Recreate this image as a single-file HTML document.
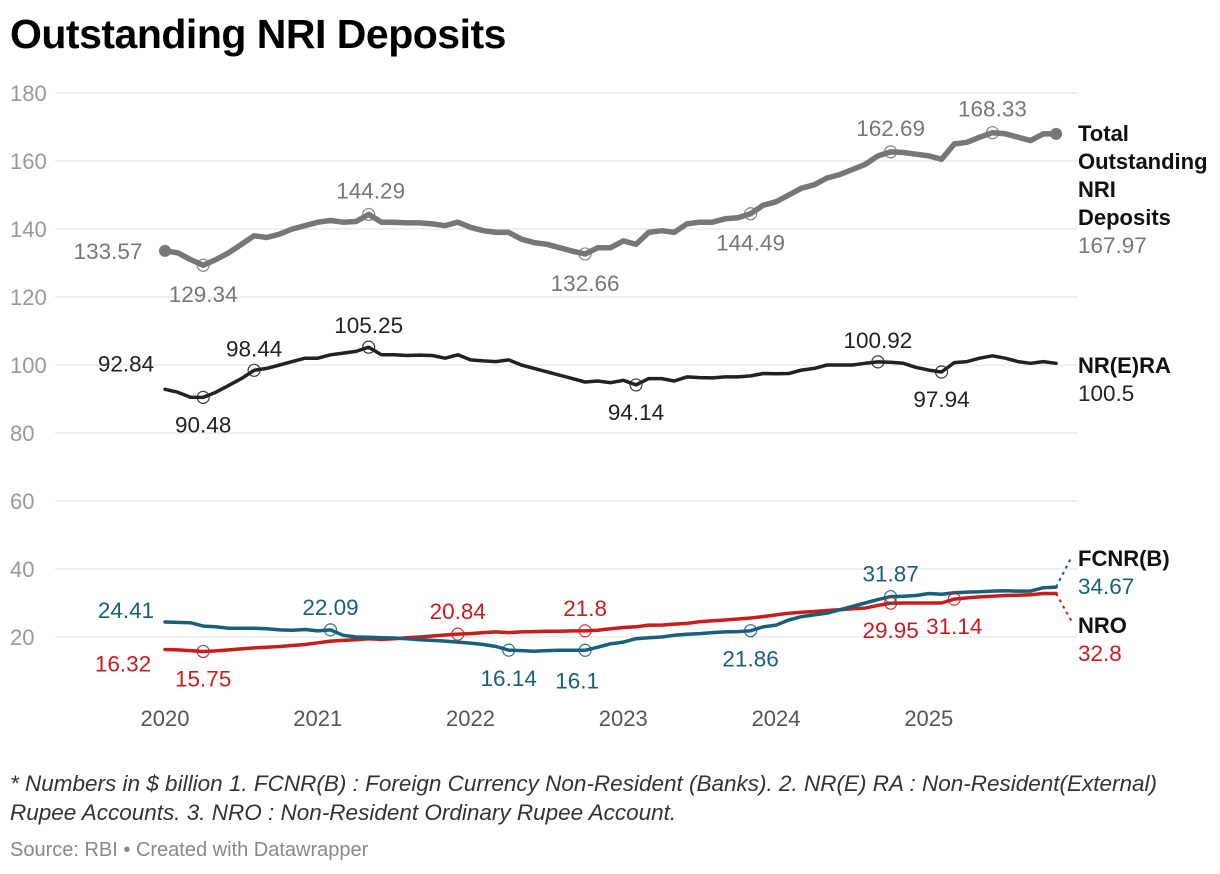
<!DOCTYPE html>
<html><head><meta charset="utf-8">
<style>
body{margin:0;background:#fff;font-family:"Liberation Sans",sans-serif;}
#wrap{position:relative;width:1220px;height:874px;overflow:hidden;}
h1{position:absolute;left:10px;top:11px;margin:0;font-size:41px;font-weight:bold;color:#000;letter-spacing:-0.5px;}
.note{position:absolute;left:10px;top:769px;font-size:22.5px;font-style:italic;color:#333;line-height:29px;width:1190px;}
.src{position:absolute;left:10px;top:839px;font-size:20px;color:#888;}
</style></head>
<body><div id="wrap">
<h1>Outstanding NRI Deposits</h1>
<svg id="chart" width="1220" height="874" style="position:absolute;left:0;top:0"></svg>
<div class="note">* Numbers in $ billion 1. FCNR(B) : Foreign Currency Non-Resident (Banks). 2. NR(E) RA : Non-Resident(External) Rupee Accounts. 3. NRO : Non-Resident Ordinary Rupee Account.</div>
<div class="src">Source: RBI • Created with Datawrapper</div>
</div>
<script>
const yTicks=[20,40,60,80,100,120,140,160,180];
const years=["2020","2021","2022","2023","2024","2025"];
const total=[133.57,133,131,129.34,131,133,135.5,138,137.5,138.5,140,141,142,142.5,142,142.2,144.29,142,142,141.8,141.8,141.5,141,142,140.5,139.5,139,139,137,136,135.5,134.5,133.5,132.66,134.5,134.5,136.5,135.5,139,139.5,139,141.5,142,142,143,143.3,144.49,147,148,150,152,153,155,156,157.5,159,161.5,162.69,162.5,162,161.5,160.5,165,165.5,167,168.33,168,167,166,168,167.97];
const nrera=[92.84,92,90.5,90.48,92,94,96,98.44,99,100,101,102,102,103,103.5,104,105.25,103,103,102.8,102.9,102.8,102,103,101.5,101.2,101,101.5,100,99,98,97,96,95,95.3,94.8,95.5,94.14,96,96,95.3,96.5,96.3,96.2,96.5,96.5,96.8,97.5,97.4,97.5,98.5,99,100,100,100,100.5,100.92,100.8,100.5,99.3,98.5,97.94,100.7,101,102,102.7,102,101,100.5,101,100.5];
const fcnr=[24.41,24.3,24.2,23.2,23,22.6,22.6,22.6,22.4,22.1,22,22.2,21.8,22.09,20.5,20,19.9,19.8,19.7,19.5,19.2,19,18.8,18.5,18.2,17.8,17.2,16.14,16,15.8,16,16.1,16.1,16.1,17,18,18.5,19.5,19.8,20,20.5,20.8,21,21.3,21.5,21.6,21.86,23,23.5,25,26,26.5,27,28,29,30,31,31.87,32,32.2,32.8,32.6,33,33.2,33.3,33.5,33.6,33.5,33.5,34.5,34.67];
const nro=[16.32,16.2,16,15.75,15.9,16.2,16.5,16.8,17,17.2,17.5,17.8,18.3,18.8,19,19.2,19.5,19.3,19.5,19.8,20,20.3,20.6,20.84,21,21.3,21.5,21.3,21.5,21.6,21.7,21.7,21.8,21.8,22,22.4,22.8,23,23.5,23.5,23.8,24,24.5,24.8,25,25.3,25.6,26,26.5,27,27.3,27.5,27.8,28,28.3,28.5,29.3,29.95,30,30,30,30,31.14,31.5,31.8,32,32.2,32.3,32.4,32.8,32.8];
const totalMarks=[3,16,33,46,57,65];
const nreraMarks=[3,7,16,37,56,61];
const fcnrMarks=[13,27,33,46,57];
const nroMarks=[3,23,33,57,62];

const NS="http://www.w3.org/2000/svg";
const svg=document.getElementById('chart');
const X0=55,X1=1078,M0=165,MW=12.73;
const xs=i=>M0+i*MW;
const ys=v=>705-v*3.4;
function el(tag,attrs,parent){const e=document.createElementNS(NS,tag);for(const k in attrs)e.setAttribute(k,attrs[k]);(parent||svg).appendChild(e);return e;}

yTicks.forEach(t=>{
  const l=el('line',{x1:X0,x2:X1,y1:ys(t),y2:ys(t),stroke:'#e2e2e2','stroke-width':1});
  
  
  const tx=el('text',{x:10,y:ys(t)+8,'font-size':22,fill:'#999'});
  tx.textContent=t;
  
  
});
years.forEach((y,k)=>{
  const tx=el('text',{x:xs(k*12),y:726,'font-size':22,fill:'#555','text-anchor':'middle'});
  tx.textContent=y;
  
  
});

function series(data,color,w,name){
  const d=data.map((v,i)=>(i?'L':'M')+xs(i).toFixed(1)+','+ys(v).toFixed(1)).join('');
  const p=el('path',{d:d,fill:'none',stroke:color,'stroke-width':w,'stroke-linejoin':'round','stroke-linecap':'round'});
  
  
}
function marks(data,idx,color,name,offs){
  idx.forEach((i,k)=>{
    const c=el('circle',{cx:xs(i),cy:ys(data[i]),r:6,fill:'none',stroke:color,'stroke-width':1.2,opacity:0.9});
    
    
    const o=offs[k];
    const tx=el('text',{x:xs(i)+o[0],y:ys(data[i])+o[1],'font-size':22.5,fill:color,'text-anchor':'middle'});
    tx.textContent=String(data[i]);
    
    
  });
}
function startLabel(data,color,name,dx,dy){
  const tx=el('text',{x:xs(0)+dx,y:ys(data[0])+dy,'font-size':22.5,fill:color,'text-anchor':'middle'});
  tx.textContent=String(data[0]);
  
  
}
series(nro,'#c71e1d',3.5,'nro');
series(fcnr,'#18607a',3.5,'fcnr');
series(nrera,'#222',3.5,'nrera');
series(total,'#777',5.5,'total');
marks(total,totalMarks,'#777','total',[[0,37],[2,-16],[0,37],[0,37],[0,-16],[0,-16]]);
marks(nrera,nreraMarks,'#222','nrera',[[0,35],[0,-14],[0,-14],[0,35],[0,-14],[0,35]]);
marks(fcnr,fcnrMarks,'#18607a','fcnr',[[0,-15],[0,36],[-8,38],[0,36],[0,-15]]);
marks(nro,nroMarks,'#c71e1d','nro',[[0,35],[0,-15],[0,-15],[0,35],[0,35]]);
startLabel(total,'#777','total',-57,8);
startLabel(nrera,'#222','nrera',-39,-18);
startLabel(fcnr,'#18607a','fcnr',-39,-4);
startLabel(nro,'#c71e1d','nro',-42,22);
[[total,0],[total,70]].forEach(a=>{
  const c=el('circle',{cx:xs(a[1]),cy:ys(a[0][a[1]]),r:6,fill:'#777'});
  
  
});
function rlab(lines,y,value,vcolor,name){
  lines.forEach((s,k)=>{
    const t=el('text',{x:1078,y:y+k*28,'font-size':22,'font-weight':'bold',fill:'#111'});
    t.textContent=s;
    
    
  });
  const t=el('text',{x:1078,y:y+lines.length*28,'font-size':22.5,fill:vcolor});
  t.textContent=String(value);
  
  
}
rlab(['Total','Outstanding','NRI','Deposits'],141,total[70],'#777','total');
rlab(['NR(E)RA'],373,nrera[70],'#222','nrera');
rlab(['FCNR(B)'],566,fcnr[70],'#18607a','fcnr');
rlab(['NRO'],633,nro[70],'#c71e1d','nro');
const c1=el('path',{d:`M${xs(70)},${ys(fcnr[70])} L1072,556`,stroke:'#18607a','stroke-width':2,'stroke-dasharray':'3,4',fill:'none'});


const c2=el('path',{d:`M${xs(70)},${ys(nro[70])} L1072,622`,stroke:'#c71e1d','stroke-width':2,'stroke-dasharray':'3,4',fill:'none'});


</script>
</body></html>
